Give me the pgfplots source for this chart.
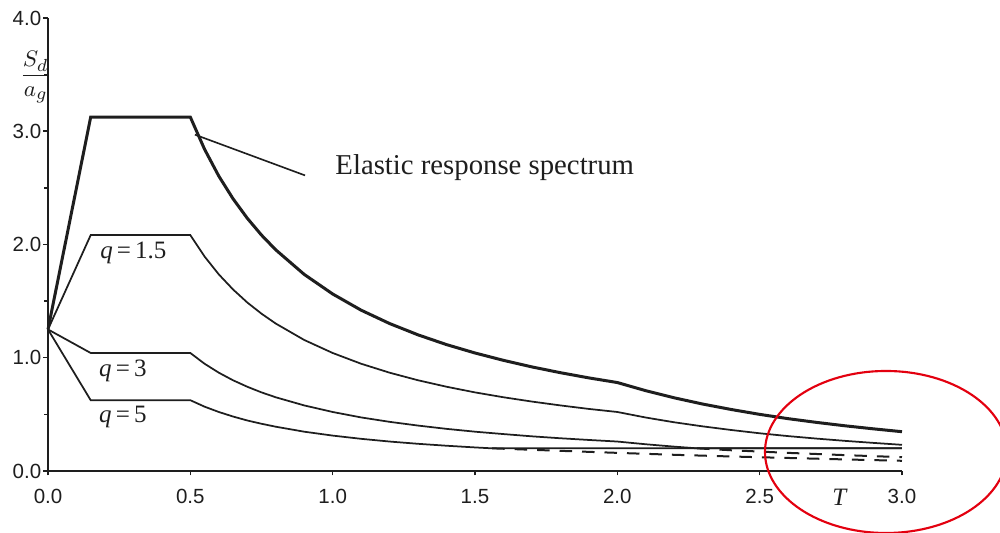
\documentclass[border=0pt]{standalone}
\usepackage{pgfplots}
\pgfplotsset{compat=1.18}
\usepackage{fontspec}
\setmainfont{Liberation Serif}
\newfontfamily\arialf{Liberation Sans}
\usetikzlibrary{calc}
\definecolor{ink}{HTML}{1E1E1E}
\definecolor{redink}{HTML}{E3000F}
\begin{document}
\begin{tikzpicture}
\begin{axis}[
  scale only axis,
  width=341.6pt, height=181.2pt,
  xmin=0, xmax=3, ymin=0, ymax=4,
  axis lines=left,
  axis line style={-, line width=0.65pt, color=ink},
  tick align=outside,
  major tick length=1.8pt,
  minor tick length=1.4pt,
  tick style={line width=0.6pt, color=ink},
  xtick={0,0.5,1,1.5,2,2.5,3},
  ytick={0,1,2,3,4},
  minor ytick={0.5,1.5,2.5,3.5},
  minor xtick={},
  /pgf/number format/assume math mode=true,
  /pgf/number format/.cd, fixed, fixed zerofill, precision=1, /pgfplots/.cd,
  ticklabel style={font=\arialf\fontsize{8.2}{9}\selectfont, text=ink},
  xticklabel style={yshift=-2pt},
  yticklabel style={xshift=2.6pt},
  clip=false,
]
% Elastic response spectrum
\addplot[ink, line width=1.2pt] coordinates {
(0,1.25) (0.15,3.125) (0.5,3.125) (0.55,2.841) (0.6,2.604) (0.65,2.404) (0.7,2.232)
(0.75,2.083) (0.8,1.953) (0.9,1.736) (1.0,1.563) (1.1,1.420) (1.2,1.302) (1.3,1.202)
(1.4,1.116) (1.5,1.042) (1.6,0.977) (1.7,0.919) (1.8,0.868) (1.9,0.822) (2.0,0.781)
(2.1,0.709) (2.2,0.646) (2.3,0.591) (2.4,0.543) (2.5,0.500) (2.6,0.462) (2.7,0.429)
(2.8,0.399) (2.9,0.372) (3.0,0.347)};
% q = 1.5
\addplot[ink, line width=0.7pt] coordinates {
(0,1.25) (0.15,2.083) (0.5,2.083) (0.55,1.894) (0.6,1.736) (0.65,1.603) (0.7,1.488)
(0.75,1.389) (0.8,1.302) (0.9,1.157) (1.0,1.042) (1.1,0.947) (1.2,0.868) (1.3,0.801)
(1.4,0.744) (1.5,0.694) (1.6,0.651) (1.7,0.613) (1.8,0.579) (1.9,0.548) (2.0,0.521)
(2.1,0.472) (2.2,0.430) (2.3,0.394) (2.4,0.362) (2.5,0.333) (2.6,0.308) (2.7,0.286)
(2.8,0.266) (2.9,0.248) (3.0,0.231)};
% q = 3
\addplot[ink, line width=0.7pt] coordinates {
(0,1.25) (0.15,1.042) (0.5,1.042) (0.55,0.947) (0.6,0.868) (0.65,0.801) (0.7,0.744)
(0.75,0.694) (0.8,0.651) (0.9,0.579) (1.0,0.521) (1.1,0.473) (1.2,0.434) (1.3,0.401)
(1.4,0.372) (1.5,0.347) (1.6,0.326) (1.7,0.306) (1.8,0.289) (1.9,0.274) (2.0,0.260)
(2.1,0.236) (2.2,0.215) (2.28,0.200) (3.0,0.200)};
% q = 5
\addplot[ink, line width=0.7pt] coordinates {
(0,1.25) (0.15,0.625) (0.5,0.625) (0.55,0.568) (0.6,0.521) (0.65,0.481) (0.7,0.446)
(0.75,0.417) (0.8,0.391) (0.9,0.347) (1.0,0.3125) (1.1,0.284) (1.2,0.260) (1.3,0.240)
(1.4,0.223) (1.5,0.208) (1.56,0.200) (3.0,0.200)};
% dashed continuations (without lower bound)
\addplot[ink, line width=0.8pt, dash pattern=on 5pt off 4pt] coordinates {
(1.56,0.200) (1.8,0.178) (2.0,0.160) (2.2,0.143) (2.4,0.128) (2.6,0.115) (2.8,0.102) (3.0,0.090)};
\addplot[ink, line width=0.8pt, dash pattern=on 5pt off 4pt] coordinates {
(2.28,0.200) (2.4,0.183) (2.6,0.160) (2.8,0.140) (3.0,0.122)};
% annotations
\draw[ink, line width=0.65pt] (axis cs:0.516,2.97) -- (axis cs:0.903,2.61);
\node[anchor=west, font=\fontsize{11.5}{13}\selectfont, text=ink, inner sep=0pt] at (axis cs:1.008,2.68) {Elastic response spectrum};
\node[font=\fontsize{10}{12}\selectfont, text=ink, inner sep=0pt] at (axis cs:0.30,1.93) {\textit{q}\,=\,1.5};
\node[font=\fontsize{10}{12}\selectfont, text=ink, inner sep=0pt] at (axis cs:0.263,0.88) {\textit{q}\,=\,3};
\node[font=\fontsize{10}{12}\selectfont, text=ink, inner sep=0pt] at (axis cs:0.263,0.48) {\textit{q}\,=\,5};
\node[font=\fontsize{9.5}{11}\selectfont, text=ink, inner sep=0pt] at (axis cs:-0.043,3.48) {$\displaystyle\frac{S_d}{a_g}$};
\node[font=\fontsize{10}{12}\selectfont\itshape, text=ink, inner sep=0pt] at ($(axis cs:2.78,0)+(0,-10.4pt)$) {T};
\coordinate (O) at (axis cs:0,0);
\end{axis}
\pgfresetboundingbox
\path[use as bounding box] ($(O)+(-19.2pt,-24.8pt)$) rectangle ++(400pt,213.2pt);
% red ellipse (center at pixel 886,452 ; rx 121, ry 81)
\draw[redink, line width=0.85pt] ($(O)+(335.2pt,7.6pt)$) ellipse [x radius=48.4pt, y radius=32.4pt];
\end{tikzpicture}
\end{document}
